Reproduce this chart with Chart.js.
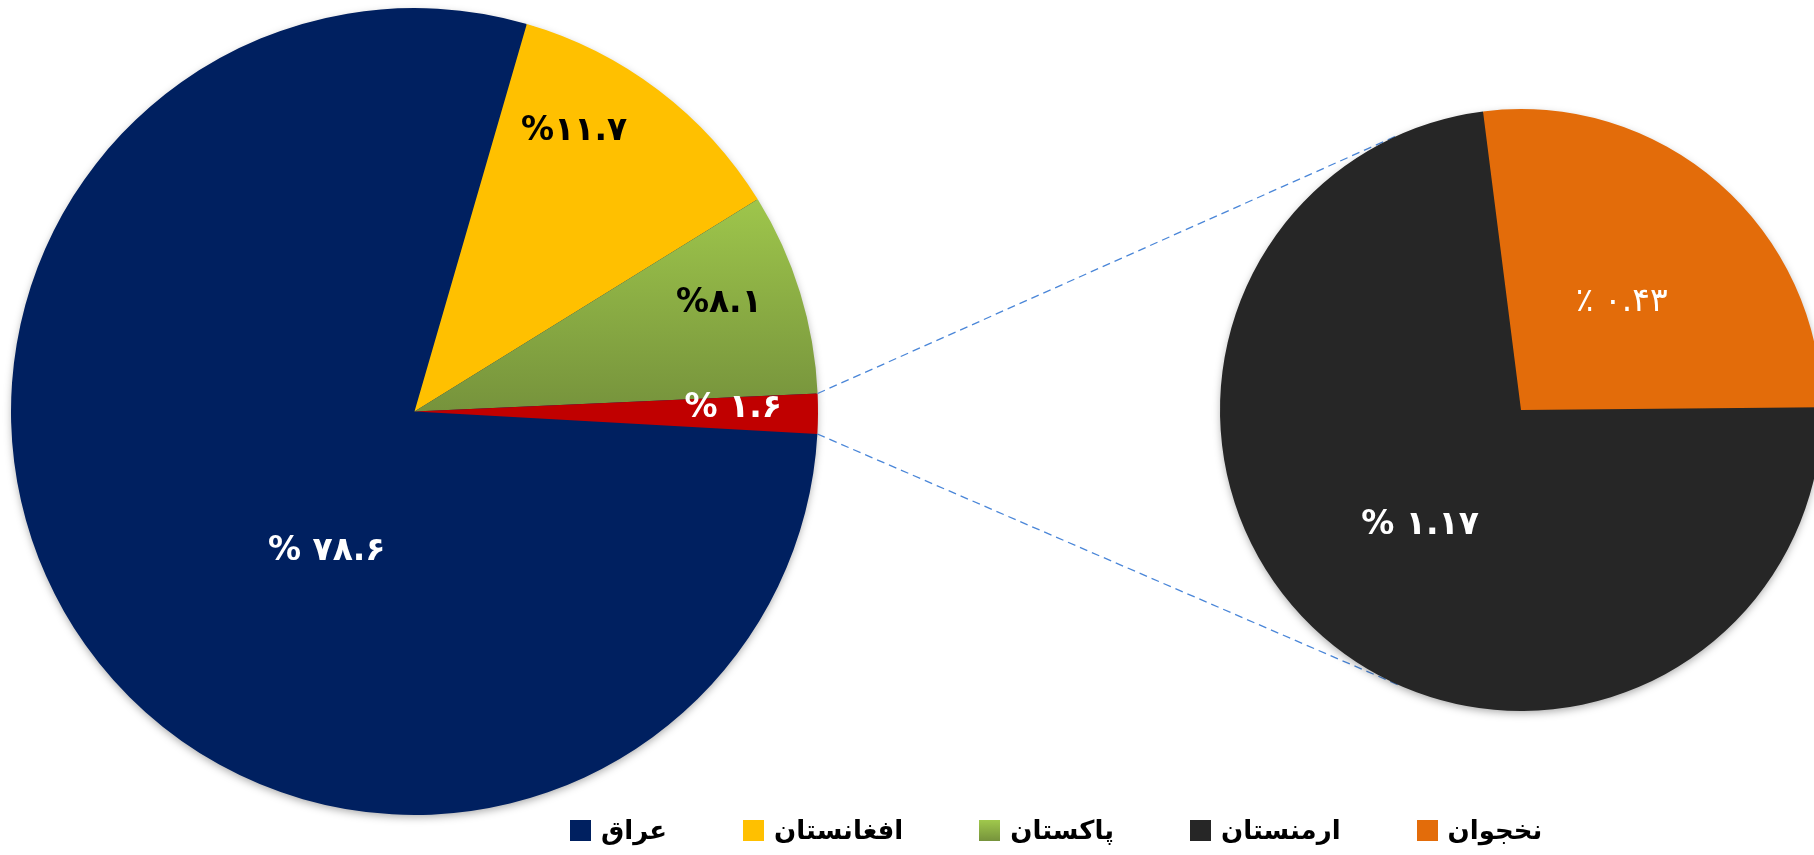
<!DOCTYPE html>
<html lang="fa">
<head>
<meta charset="UTF-8">
<meta name="viewport" content="width=device-width, initial-scale=1.0">
<title>Pie of pie</title>
<script src="https://cdn.jsdelivr.net/npm/chart.js"></script>
<style>
    html, body { margin: 0; padding: 0; background: #fff; overflow: hidden; width: 1814px; height: 855px; }
    #leftBox { position: absolute; left: 0; top: 0; width: 830px; height: 830px; }
    #rightBox { position: absolute; left: 0; top: 0; width: 1830px; height: 855px; pointer-events: none; }
    #legend { position: absolute; left: 570px; top: 815px; height: 30px; display: flex; align-items: center;
              font-family: 'DejaVu Sans', sans-serif; font-weight: bold; font-size: 26px; color: #000; }
    .item { display: flex; align-items: center; margin-right: 76px; }
    .box { width: 21px; height: 21px; margin-right: 10px; }
</style>
</head>
<body>
<div id="leftBox"><canvas id="mainPie"></canvas></div>
<div id="rightBox"><canvas id="subPie"></canvas></div>
<div id="legend"></div>
<script>
    // main pie (the last slice is split in the second pie)
    const mainLabels = ['عراق', 'افغانستان', 'پاکستان', 'ارمنستان و نخجوان'];
    const mainValues = [78.6, 11.7, 8.1, 1.6];
    const mainText = ['% ۷۸.۶', '%۱۱.۷', '%۸.۱', '% ۱.۶'];
    const mainColors = ['#002060', '#ffc000', '#8aad44', '#c00000'];

    // second pie
    const subLabels = ['ارمنستان', 'نخجوان'];
    const subValues = [1.17, 0.43];
    const subText = ['% ۱.۱۷', '٪ ۰.۴۳'];
    const subColors = ['#262626', '#e36c0a'];

    const labelFont = "bold 33px 'DejaVu Sans'";

    function pakistanFill(c) {
        const area = c.chart.chartArea;
        if (!area) return mainColors[2];
        const cy = (area.top + area.bottom) / 2;
        const r = Math.min(area.right - area.left, area.bottom - area.top) / 2;
        const g = c.chart.ctx.createLinearGradient(0, cy - r * 0.55, 0, cy);
        g.addColorStop(0, '#a0c84c');
        g.addColorStop(1, '#76933c');
        return g;
    }

    const sliceLabels = {
        id: 'sliceLabels',
        afterDatasetsDraw(chart, args, opts) {
            const ctx = chart.ctx;
            chart.getDatasetMeta(0).data.forEach((arc, i) => {
                const p = opts.place[i];
                const a = arc.startAngle + (arc.endAngle - arc.startAngle) * p[0];
                const r = arc.outerRadius * p[1];
                ctx.save();
                ctx.font = opts.fonts[i];
                ctx.fillStyle = opts.colors[i];
                ctx.textAlign = 'center';
                ctx.textBaseline = 'middle';
                ctx.direction = 'ltr';
                ctx.fillText(opts.text[i], arc.x + Math.cos(a) * r, arc.y + Math.sin(a) * r);
                ctx.restore();
            });
        }
    };

    const pieShadow = {
        id: 'pieShadow',
        beforeDatasetsDraw(chart, args, opts) {
            const arc = chart.getDatasetMeta(0).data[0];
            const ctx = chart.ctx;
            ctx.save();
            ctx.shadowColor = 'rgba(0,0,0,0.35)';
            ctx.shadowBlur = 8;
            ctx.shadowOffsetY = 3;
            ctx.fillStyle = opts.color;
            ctx.beginPath();
            ctx.arc(arc.x, arc.y, arc.outerRadius - 1, 0, Math.PI * 2);
            ctx.fill();
            ctx.restore();
        }
    };

    const mainChart = new Chart(document.getElementById('mainPie'), {
        type: 'pie',
        data: {
            labels: mainLabels,
            datasets: [{
                data: mainValues,
                backgroundColor: c => c.dataIndex === 2 ? pakistanFill(c) : mainColors[c.dataIndex],
                borderWidth: 0,
                hoverOffset: 0
            }]
        },
        options: {
            responsive: true,
            maintainAspectRatio: false,
            animation: false,
            rotation: 93.2,
            layout: { padding: { left: 11, top: 8, right: 12, bottom: 15 } },
            plugins: {
                legend: { display: false },
                tooltip: { enabled: false },
                pieShadow: { color: '#002060' },
                sliceLabels: {
                    text: mainText,
                    place: [[0.42, 0.41], [0.32, 0.80], [0.42, 0.80], [0.36, 0.79]],
                    colors: ['#fff', '#000', '#000', '#fff'],
                    fonts: [labelFont, labelFont, labelFont, labelFont]
                }
            }
        },
        plugins: [pieShadow, sliceLabels]
    });

    // dashed lines from the split slice to the tangents of the second pie
    const connectors = {
        id: 'connectors',
        beforeDatasetsDraw(chart) {
            const src = mainChart.getDatasetMeta(0).data[3];
            const dst = chart.getDatasetMeta(0).data[0];
            const ctx = chart.ctx;
            const ends = [[src.startAngle, 1], [src.endAngle, -1]];
            ctx.save();
            ctx.strokeStyle = '#4a86d8';
            ctx.lineWidth = 1.3;
            ctx.setLineDash([8, 5]);
            ends.forEach(([ang, side]) => {
                const px = src.x + Math.cos(ang) * src.outerRadius;
                const py = src.y + Math.sin(ang) * src.outerRadius;
                const dx = px - dst.x, dy = py - dst.y;
                const d = Math.hypot(dx, dy);
                const t = Math.atan2(dy, dx) + side * Math.acos(dst.outerRadius / d);
                ctx.beginPath();
                ctx.moveTo(px, py);
                ctx.lineTo(dst.x + Math.cos(t) * dst.outerRadius, dst.y + Math.sin(t) * dst.outerRadius);
                ctx.stroke();
            });
            ctx.restore();
        }
    };

    const subChart = new Chart(document.getElementById('subPie'), {
        type: 'pie',
        data: {
            labels: subLabels,
            datasets: [{
                data: subValues,
                backgroundColor: subColors,
                borderWidth: 0,
                hoverOffset: 0
            }]
        },
        options: {
            responsive: true,
            maintainAspectRatio: false,
            animation: false,
            rotation: 89.5,
            events: [],
            layout: { padding: { left: 1220, top: 109, right: 8, bottom: 144 } },
            plugins: {
                legend: { display: false },
                tooltip: { enabled: false },
                pieShadow: { color: '#262626' },
                sliceLabels: {
                    text: subText,
                    place: [[0.50, 0.51], [0.52, 0.49]],
                    colors: ['#fff', '#fff'],
                    fonts: [labelFont, "33px 'DejaVu Sans'"]
                }
            }
        },
        plugins: [connectors, pieShadow, sliceLabels]
    });

    // legend: main slices without the split one, then the second pie
    const legendItems = mainLabels.slice(0, 3).map((l, i) => [l, mainColors[i]])
        .concat(subLabels.map((l, i) => [l, subColors[i]]));
    const legend = document.getElementById('legend');
    legendItems.forEach(([label, color], i) => {
        const item = document.createElement('div');
        item.className = 'item';
        const box = document.createElement('span');
        box.className = 'box';
        box.style.background = i === 2 ? 'linear-gradient(#a0c84c, #76933c)' : color;
        const txt = document.createElement('span');
        txt.textContent = label;
        item.appendChild(box);
        item.appendChild(txt);
        legend.appendChild(item);
    });
</script>
</body>
</html>
